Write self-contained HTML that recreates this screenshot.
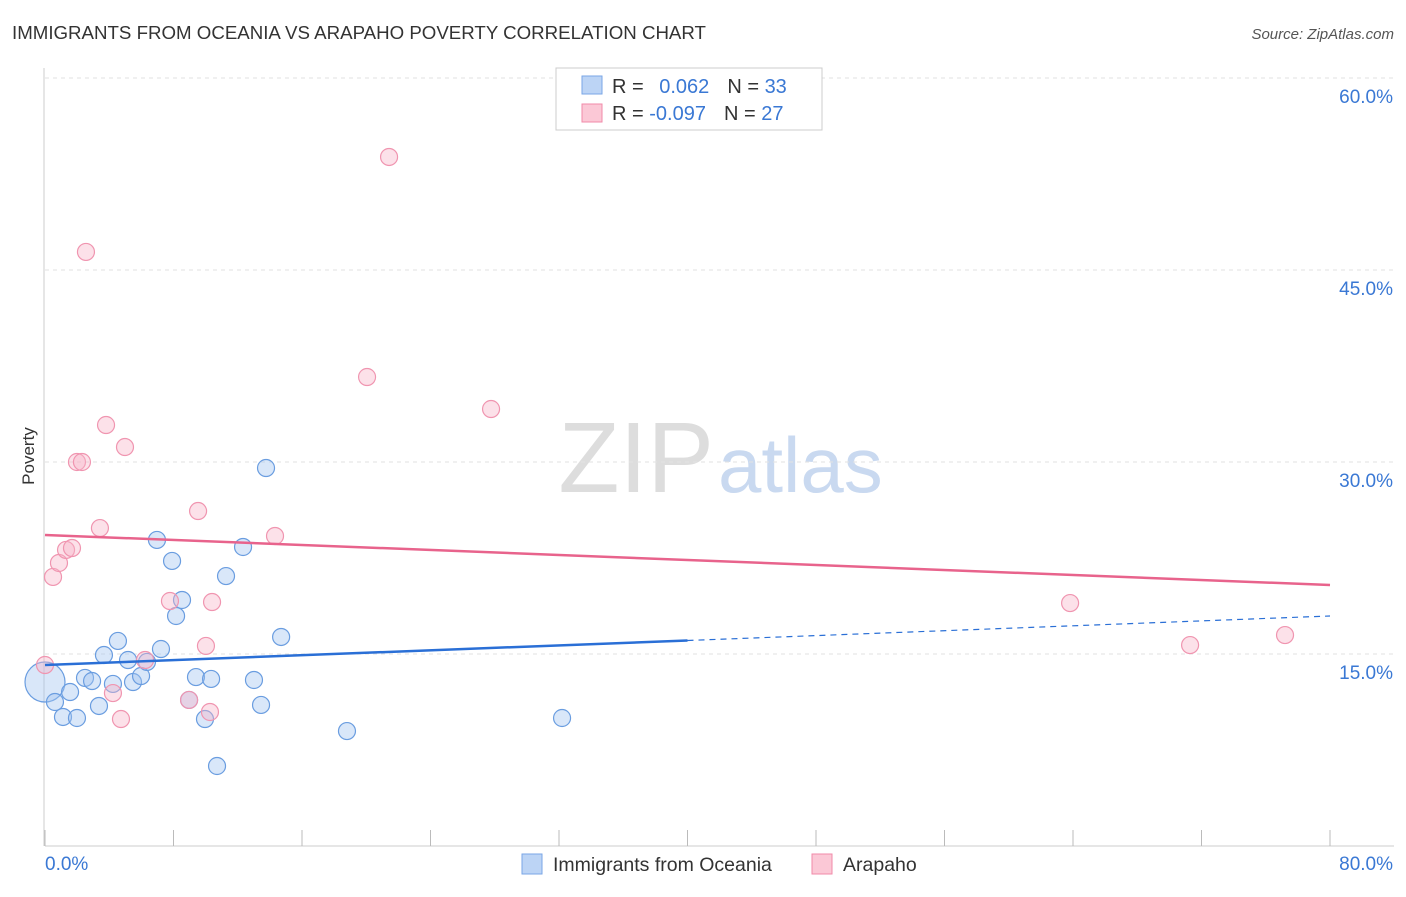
<!DOCTYPE html>
<html><head><meta charset="utf-8"><style>
body{margin:0;background:#fff;font-family:"Liberation Sans",sans-serif}
svg text{font-family:"Liberation Sans",sans-serif}
</style></head><body>
<svg id="c" width="1406" height="892" xmlns="http://www.w3.org/2000/svg">
<text x="12" y="39" font-size="18.7" fill="#333">IMMIGRANTS FROM OCEANIA VS ARAPAHO POVERTY CORRELATION CHART</text>
<text x="1394" y="39" font-size="15" fill="#555" text-anchor="end" font-style="italic">Source: ZipAtlas.com</text>
<text x="34" y="456" font-size="17" fill="#333" transform="rotate(-90 34 456)" text-anchor="middle">Poverty</text>
<text x="714" y="492" font-size="100" fill="#ddd" text-anchor="end" font-family="Liberation Serif">ZIP</text>
<text x="718" y="492" font-size="78" fill="#c9d9f0">atlas</text>
<g id="grid"></g><g id="pts"></g><g id="lines"></g>
<rect x="556" y="68" width="266" height="62" fill="#fff" stroke="#ccc"/>
<rect x="582" y="76" width="20" height="18" fill="#bcd4f5" stroke="#7aa6e6"/>
<rect x="582" y="104" width="20" height="18" fill="#fbc8d6" stroke="#f08aa8"/>
<text x="612" y="93" font-size="20" fill="#333">R =  <tspan fill="#3a78d4" dx="10">0.062</tspan><tspan fill="#333" dx="18">N = </tspan><tspan fill="#3a78d4">33</tspan></text>
<text x="612" y="120" font-size="20" fill="#333">R = <tspan fill="#3a78d4">-0.097</tspan><tspan fill="#333" dx="18">N = </tspan><tspan fill="#3a78d4">27</tspan></text>
<rect x="522" y="854" width="20" height="20" fill="#bcd4f5" stroke="#7aa6e6"/>
<text x="553" y="871" font-size="19.5" fill="#333">Immigrants from Oceania</text>
<rect x="812" y="854" width="20" height="20" fill="#fbc8d6" stroke="#f08aa8"/>
<text x="843" y="871" font-size="19.5" fill="#333">Arapaho</text>
</svg>
<script>
const blueX=[0,0.62,1.56,1.12,1.99,2.49,2.93,3.36,3.67,4.23,4.54,5.17,5.48,5.98,6.35,6.97,7.22,7.91,8.16,8.53,9.40,8.97,9.96,10.34,10.71,11.27,12.33,13.01,13.45,13.76,14.70,18.80,32.19];
const blueY=[12.81,11.25,12.03,10.08,10.0,13.13,12.89,10.94,14.92,12.66,16.02,14.53,12.81,13.28,14.38,23.91,15.39,22.27,17.97,19.22,13.20,11.41,9.92,13.05,6.25,21.09,23.36,12.97,11.02,29.53,16.33,8.98,10.0];
const pinkX=[0,0.50,0.87,1.31,1.68,1.99,2.30,2.55,3.42,3.80,4.23,4.73,4.98,6.23,7.78,8.97,9.53,10.02,10.27,10.40,14.32,20.05,21.42,27.77,63.82,71.29,77.20];
const pinkY=[14.14,21.02,22.11,23.13,23.28,30.0,30.0,46.41,24.84,32.89,11.95,9.92,31.17,14.53,19.14,11.41,26.17,15.63,10.47,19.06,24.22,36.64,53.83,34.14,18.98,15.70,16.48];
const yTicks=[15,30,45,60];
const xTicks=[0,8,16,24,32,40,48,56,64,72,80];
const blueTrend=[14.14,17.97];
const pinkTrend=[24.3,20.39];
const blueSolidEnd=40;
const NS="http://www.w3.org/2000/svg";
const X=v=>45+v*(1285/80), Y=v=>846-v*12.8;
function mk(t,a,p){const e=document.createElementNS(NS,t);for(const k in a)e.setAttribute(k,a[k]);document.getElementById(p).appendChild(e);return e;}
let ax=mk('line',{x1:45,y1:846,x2:1394,y2:846,stroke:'#ccc'},'grid');


let ay=mk('line',{x1:44,y1:68,x2:44,y2:846,stroke:'#ccc'},'grid');


yTicks.forEach(t=>{
 const g=mk('line',{x1:45,y1:Y(t),x2:1394,y2:Y(t),stroke:'#e2e2e2','stroke-dasharray':'4 4'},'grid');
 
 
 const l=mk('text',{x:1393,y:Y(t)+25,'font-size':19,fill:'#3a78d4','text-anchor':'end'},'grid');l.textContent=t.toFixed(1)+'%';
 
 
});
xTicks.forEach(t=>{
 const g=mk('line',{x1:X(t),y1:830,x2:X(t),y2:846,stroke:'#bbb'},'grid');
 
 
});
[[0,'start',45],[80,'end',1393]].forEach(([t,a,x])=>{
 const l=mk('text',{x:x,y:870,'font-size':19,fill:'#3a78d4','text-anchor':a},'grid');l.textContent=t.toFixed(1)+'%';
 
 
});
blueX.forEach((v,i)=>{
 const c=mk('circle',{cx:X(v),cy:Y(blueY[i]),r:i==0?20:8.5,fill:'rgba(160,196,240,0.4)',stroke:'#6a9de0','stroke-width':1.2},'pts');
 
 
});
pinkX.forEach((v,i)=>{
 const c=mk('circle',{cx:X(v),cy:Y(pinkY[i]),r:8.5,fill:'rgba(248,180,200,0.4)',stroke:'#f095b0','stroke-width':1.2},'pts');
 
 
});
const by=x=>blueTrend[0]+(blueTrend[1]-blueTrend[0])*x/80;
let b1=mk('line',{x1:X(0),y1:Y(by(0)),x2:X(blueSolidEnd),y2:Y(by(blueSolidEnd)),stroke:'#2a6fd6','stroke-width':2.5},'lines');


let b2=mk('line',{x1:X(blueSolidEnd),y1:Y(by(blueSolidEnd)),x2:X(80),y2:Y(by(80)),stroke:'#2a6fd6','stroke-width':1.2,'stroke-dasharray':'6 5'},'lines');


let p1=mk('line',{x1:X(0),y1:Y(pinkTrend[0]),x2:X(80),y2:Y(pinkTrend[1]),stroke:'#e8638c','stroke-width':2.5},'lines');


</script>
</body></html>
